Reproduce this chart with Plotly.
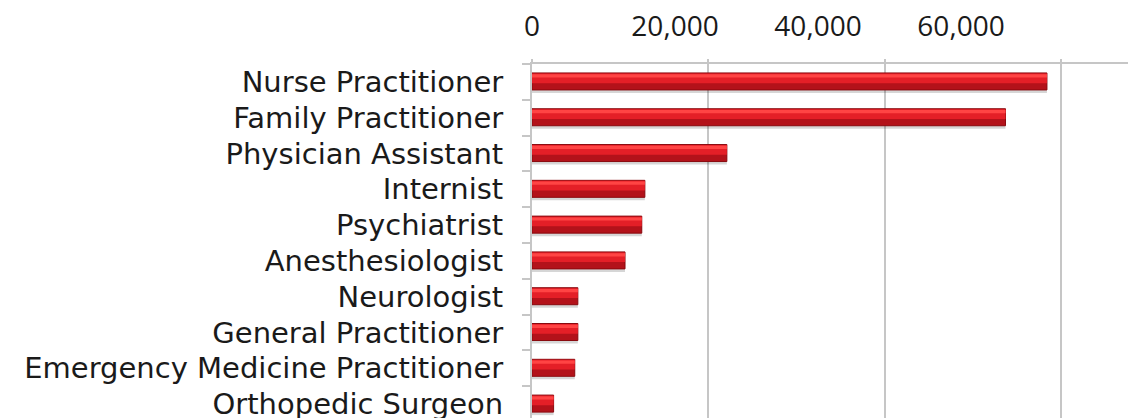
import plotly.graph_objects as go

categories = [
    "Nurse Practitioner",
    "Family Practitioner",
    "Physician Assistant",
    "Internist",
    "Psychiatrist",
    "Anesthesiologist",
    "Neurologist",
    "General Practitioner",
    "Emergency Medicine Practitioner",
    "Orthopedic Surgeon",
]
values = [58400, 53700, 22100, 12800, 12450, 10550, 5200, 5200, 4850, 2450]
tick_vals = [0, 20000, 40000, 60000]
tick_text = ["0", "20,000", "40,000", "60,000"]

YFONT = "DejaVu Sans"
XFONT = "Open Sans"

fig = go.Figure()

# soft shadow
fig.add_trace(go.Bar(
    y=categories, x=values, orientation="h",
    width=0.5, offset=-0.19,
    marker=dict(color="rgba(0,0,0,0.16)", line=dict(width=0)),
    hoverinfo="skip", showlegend=False,
))
# main body (dark red)
fig.add_trace(go.Bar(
    y=categories, x=values, orientation="h",
    width=0.475, offset=-0.25,
    marker=dict(color="#b3121a", line=dict(color="#8a0a0f", width=1)),
    showlegend=False,
))
# mid tone
fig.add_trace(go.Bar(
    y=categories, x=values, orientation="h",
    width=0.27, offset=-0.235,
    marker=dict(color="#e41f27", line=dict(width=0)),
    hoverinfo="skip", showlegend=False,
))
# highlight strip
fig.add_trace(go.Bar(
    y=categories, x=values, orientation="h",
    width=0.09, offset=-0.215,
    marker=dict(color="#ff4444", line=dict(width=0)),
    hoverinfo="skip", showlegend=False,
))

# page body has an 8px default margin, so the figure is sized/offset for it
fig.update_layout(
    width=1128, height=410,
    margin=dict(l=524, r=0, t=56, b=0, autoexpand=False),
    paper_bgcolor="white", plot_bgcolor="white",
    barmode="overlay",
    font=dict(family=YFONT, color="#1a1a1a"),
    xaxis=dict(
        side="top", range=[0, 68500], automargin=False,
        tickvals=tick_vals, showticklabels=False,
        showgrid=True, gridcolor="#c6c6c6", gridwidth=2,
        showline=True, linecolor="#c6c6c6", linewidth=2,
        ticks="outside", ticklen=3, tickcolor="#c6c6c6", tickwidth=2,
        zeroline=False,
    ),
    xaxis2=dict(
        overlaying="x", side="top", range=[0, 84475], automargin=False,
        tickvals=tick_vals, ticktext=tick_text,
        showgrid=False, showline=False, zeroline=False,
        ticks="", tickfont=dict(family=XFONT, size=28, color="#1a1a1a"),
        ticklabelstandoff=21,
    ),
    yaxis=dict(
        categoryorder="array", categoryarray=categories,
        range=[9.39, -0.5], automargin=False,
        showgrid=False, zeroline=False,
        showline=True, linecolor="#c6c6c6", linewidth=2,
        ticks="outside", ticklen=8, tickcolor="#c6c6c6", tickwidth=2,
        tickson="boundaries",
        tickfont=dict(family=YFONT, size=29, color="#1a1a1a"),
        ticklabelstandoff=21,
    ),
)

# invisible helper so xaxis2 is rendered
fig.add_trace(go.Scatter(x=[None], y=[None], xaxis="x2", mode="lines",
                         showlegend=False, hoverinfo="skip"))

fig.write_html("out.html")
